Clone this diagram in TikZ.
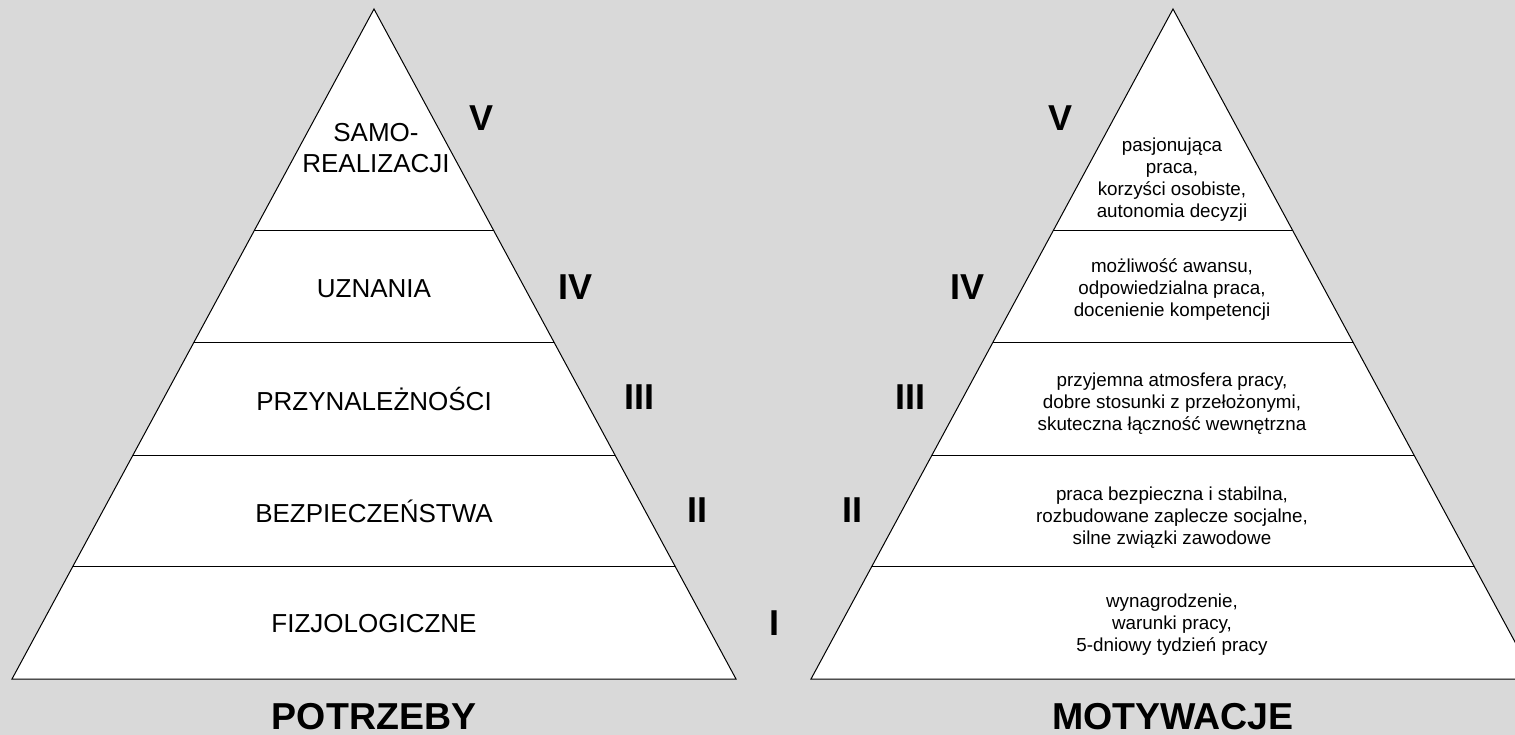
\documentclass[tikz,border=0pt]{standalone}
\usepackage{fontspec}
\setmainfont{Liberation Sans}
\usetikzlibrary{calc}
\definecolor{bggray}{RGB}{217,217,217}

\begin{document}
\begin{tikzpicture}[x=1pt,y=-1pt,
  levelname/.style={font=\fontsize{26}{31.5}\selectfont, align=center, inner sep=0pt},
  roman/.style={font=\bfseries\fontsize{36}{36}\selectfont, inner sep=0pt},
  title/.style={font=\bfseries\fontsize{37.5}{38}\selectfont, inner sep=0pt, anchor=base},
  motiv/.style={font=\fontsize{18.8}{22}\selectfont, align=center, inner sep=0pt},
  tri/.style={draw=black, fill=white, line width=1pt, line join=miter},
  band/.style={draw=black, line width=1pt}]

% canvas
\fill[bggray] (0,0) rectangle (1515,735);
\useasboundingbox (0,0) rectangle (1515,735);
\clip (0,0) rectangle (1515,735);

% corners of the two pyramids
\coordinate (LA)  at (374,9);
\coordinate (LBL) at (12,679);
\coordinate (LBR) at (736,679);
\coordinate (RA)  at (1173,9);
\coordinate (RBL) at (811,679);
\coordinate (RBR) at (1535,679);

% pyramids
\path[tri] (LA) -- (LBL) -- (LBR) -- cycle;
\path[tri] (RA) -- (RBL) -- (RBR) -- cycle;

% level boundaries
\foreach \t in {0.3313,0.4985,0.6657,0.8328}{
  \draw[band] ($(LA)!\t!(LBL)$) -- ($(LA)!\t!(LBR)$);
  \draw[band] ($(RA)!\t!(RBL)$) -- ($(RA)!\t!(RBR)$);
}

% needs
\node[levelname] (n5) at (376,148) {SAMO-\\REALIZACJI};
\node[levelname, anchor=base] (n4) at (374,298) {UZNANIA};
\node[levelname, anchor=base] (n3) at (374,410) {PRZYNALEŻNOŚCI};
\node[levelname, anchor=base] (n2) at (374,522) {BEZPIECZEŃSTWA};
\node[levelname, anchor=base] (n1) at (374,632) {FIZJOLOGICZNE};

% level numbers, needs side
\node[roman] (lv5) at (482,118) {V};
\node[roman] (lv4) at (575,287) {IV};
\node[roman] (lv3) at (639,397) {III};
\node[roman] (lv2) at (697,510) {II};
\node[roman] (lv1) at (774,623) {I};

% level numbers, motivation side
\node[roman] (rv5) at (1060,118) {V};
\node[roman] (rv4) at (967,287) {IV};
\node[roman] (rv3) at (910,397) {III};
\node[roman] (rv2) at (852,510) {II};

% motivations
\node[motiv] (m5) at (1172,180) {pasjonująca\\praca,\\korzyści osobiste,\\autonomia decyzji};
\node[motiv] (m4) at (1172,290) {możliwość awansu,\\odpowiedzialna praca,\\docenienie kompetencji};
\node[motiv] (m3) at (1172,404) {przyjemna atmosfera pracy,\\dobre stosunki z przełożonymi,\\skuteczna łączność wewnętrzna};
\node[motiv] (m2) at (1172,518) {praca bezpieczna i stabilna,\\rozbudowane zaplecze socjalne,\\silne związki zawodowe};
\node[motiv] (m1) at (1172,625) {wynagrodzenie,\\warunki pracy,\\5-dniowy tydzień pracy};

% titles
\node[title] (tl) at (374,729.5) {POTRZEBY};
\node[title] (tr) at (1173,729.5) {MOTYWACJE};
\end{tikzpicture}
\end{document}
